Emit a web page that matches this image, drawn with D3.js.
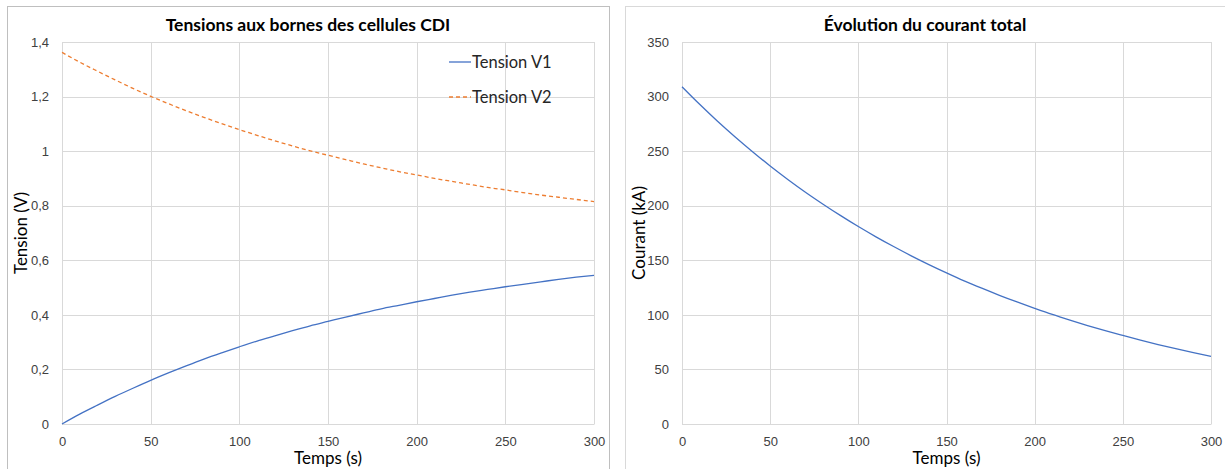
<!DOCTYPE html>
<html>
<head>
<meta charset="utf-8">
<script src="https://cdn.jsdelivr.net/npm/d3@7"></script>
<style>
  body { margin: 0; background: #fff; }
  svg { display: block; font-family: Lato, "Open Sans", sans-serif; }
  .tick text { fill: #404040; font-size: 13px; }
  .title { font-weight: bold; font-size: 17.5px; fill: #000; }
  .axis-title { font-size: 17px; fill: #000; }
  .legend text { font-size: 16.5px; fill: #262626; }
</style>
</head>
<body>
<svg id="charts" width="1225" height="469"></svg>
<script>
const width = 1225;
const height = 469;

/* DATA */
const temps = [0, 10, 20, 30, 40, 50, 60, 70, 80, 90, 100, 110, 120, 130, 140, 150,
  160, 170, 180, 190, 200, 210, 220, 230, 240, 250, 260, 270, 280, 290, 300];

const tensionV1 = [0, 0.036, 0.069, 0.101, 0.131, 0.160, 0.187, 0.213, 0.238, 0.261, 0.283,
  0.304, 0.323, 0.342, 0.360, 0.376, 0.392, 0.407, 0.422, 0.435, 0.448,
  0.460, 0.472, 0.483, 0.493, 0.503, 0.512, 0.521, 0.530, 0.538, 0.545];

const tensionV2 = [1.362, 1.326, 1.293, 1.261, 1.230, 1.201, 1.174, 1.148, 1.124, 1.101, 1.079,
  1.058, 1.038, 1.019, 1.001, 0.985, 0.969, 0.953, 0.939, 0.925, 0.913,
  0.900, 0.889, 0.878, 0.867, 0.858, 0.848, 0.839, 0.831, 0.823, 0.815];

const courant = [309, 292.9, 277.6, 263.2, 249.5, 236.4, 224.1, 212.4, 201.4, 190.9, 180.9,
  171.5, 162.6, 154.1, 146.1, 138.5, 131.2, 124.4, 117.9, 111.8, 106.0,
  100.4, 95.2, 90.2, 85.5, 81.1, 76.8, 72.8, 69.0, 65.4, 62.0];

const xTicks = [0, 50, 100, 150, 200, 250, 300];
const tensionTicks = [0, 0.2, 0.4, 0.6, 0.8, 1, 1.2, 1.4];
const courantTicks = [0, 50, 100, 150, 200, 250, 300, 350];

const blue = "#4472C4";
const orange = "#ED7D31";
const grid = "#d9d9d9";

const svg = d3.select("svg#charts");

/* LEFT CHART */
drawChart({
  box: { x: 7.5, y: 6.5, w: 602, h: 480, stroke: "#bfbfbf" },
  plot: { left: 62, right: 594, top: 42, bottom: 424 },
  yDomain: [0, 1.4],
  yTicks: tensionTicks,
  yFormat: d => String(d).replace(".", ","),
  title: "Tensions aux bornes des cellules CDI",
  titleX: 308,
  yTitle: "Tension (V)",
  yTitleX: 22,
  series: [
    { name: "Tension V1", values: tensionV1, color: blue, dash: null },
    { name: "Tension V2", values: tensionV2, color: orange, dash: "4,3" }
  ],
  legend: { x: 449, y: 62, step: 35 }
});

/* RIGHT CHART */
drawChart({
  box: { x: 625.5, y: 6.5, w: 620, h: 480, stroke: grid },
  plot: { left: 682, right: 1211, top: 42, bottom: 424 },
  yDomain: [0, 350],
  yTicks: courantTicks,
  yFormat: d => String(d),
  title: "Évolution du courant total",
  titleX: 925,
  yTitle: "Courant (kA)",
  yTitleX: 640,
  series: [
    { name: "Courant", values: courant, color: blue, dash: null }
  ],
  legend: null
});


function drawChart(cfg) {
  const g = svg.append("g");

  g.append("rect")
    .attr("x", cfg.box.x)
    .attr("y", cfg.box.y)
    .attr("width", cfg.box.w)
    .attr("height", cfg.box.h)
    .attr("fill", "none")
    .attr("stroke", cfg.box.stroke);

  const x = d3.scaleLinear().domain([0, 300]).range([cfg.plot.left, cfg.plot.right]);
  const y = d3.scaleLinear().domain(cfg.yDomain).range([cfg.plot.bottom, cfg.plot.top]);
  const plotW = cfg.plot.right - cfg.plot.left;
  const plotH = cfg.plot.bottom - cfg.plot.top;

  // grid
  const gridY = d3.axisLeft(y).tickValues(cfg.yTicks).tickSize(-plotW).tickFormat("");
  g.append("g").attr("class", "grid")
    .attr("transform", translate(cfg.plot.left, 0))
    .call(gridY);

  const gridX = d3.axisBottom(x).tickValues(xTicks).tickSize(-plotH).tickFormat("");
  g.append("g").attr("class", "grid")
    .attr("transform", translate(0, cfg.plot.bottom))
    .call(gridX);

  g.selectAll(".grid .domain").remove();
  g.selectAll(".grid line").attr("stroke", grid).attr("shape-rendering", "crispEdges");

  // axis labels
  const yAxis = d3.axisLeft(y).tickValues(cfg.yTicks).tickFormat(cfg.yFormat).tickSize(0).tickPadding(13);
  const yGroup = g.append("g").attr("transform", translate(cfg.plot.left, 0)).call(yAxis);
  yGroup.select(".domain").attr("stroke", grid);

  const xAxis = d3.axisBottom(x).tickValues(xTicks).tickSize(0).tickPadding(13);
  const xGroup = g.append("g").attr("transform", translate(0, cfg.plot.bottom)).call(xAxis);
  xGroup.select(".domain").attr("stroke", grid);

  // titles
  g.append("text").attr("class", "title")
    .attr("x", cfg.titleX).attr("y", 31)
    .attr("text-anchor", "middle")
    .text(cfg.title);

  g.append("text").attr("class", "axis-title")
    .attr("x", midpoint(x.range())).attr("y", 464)
    .attr("text-anchor", "middle")
    .text("Temps (s)");

  g.append("text").attr("class", "axis-title")
    .attr("transform", translate(cfg.yTitleX, midpoint(y.range())) + " rotate(-90)")
    .attr("dy", 5)
    .attr("text-anchor", "middle")
    .text(cfg.yTitle);

  // lines
  const line = d3.line()
    .x((d, i) => x(temps[i]))
    .y(d => y(d))
    .curve(d3.curveMonotoneX);

  cfg.series.forEach(s => {
    g.append("path")
      .datum(s.values)
      .attr("d", line)
      .attr("fill", "none")
      .attr("stroke", s.color)
      .attr("stroke-width", 1.3)
      .attr("stroke-dasharray", s.dash);
  });

  // legend
  if (cfg.legend) {
    const lg = g.append("g").attr("class", "legend")
      .attr("transform", translate(cfg.legend.x, cfg.legend.y));

    cfg.series.forEach((s, i) => {
      const row = lg.append("g").attr("transform", translate(0, i * cfg.legend.step));
      row.append("line")
        .attr("x1", 0).attr("x2", 22)
        .attr("stroke", s.color)
        .attr("stroke-width", 1.3)
        .attr("stroke-dasharray", s.dash);
      row.append("text")
        .attr("x", 23).attr("dy", 5.5)
        .text(s.name);
    });
  }
}

function midpoint(range) {
  return range[0] + (range[1] - range[0]) / 2.0;
}

function translate(x, y) {
  return "translate(" + String(x) + "," + String(y) + ")";
}
</script>
</body>
</html>
